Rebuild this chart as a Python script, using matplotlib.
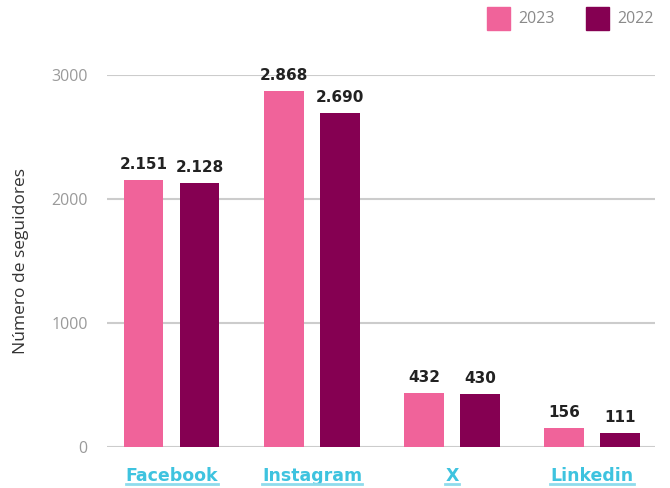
import matplotlib
matplotlib.use("Agg")
import matplotlib.pyplot as plt
import numpy as np
from matplotlib.patches import Rectangle
from matplotlib.lines import Line2D

categories = ["Facebook", "Instagram", "X", "Linkedin"]
values_2023 = [2151, 2868, 432, 156]
values_2022 = [2128, 2690, 430, 111]
labels_2023 = ["2.151", "2.868", "432", "156"]
labels_2022 = ["2.128", "2.690", "430", "111"]
series_names = ["2023", "2022"]
yticks = [0, 1000, 2000, 3000]

c2023 = "#F0639A"
c2022 = "#850052"
cat_color = "#3EC3DF"

W, H = 670, 488
fig = plt.figure(figsize=(W/100, H/100), dpi=100)
ax = fig.add_axes([107/W, 1-447/H, (655-107)/W, (447-75)/H])

x = np.arange(len(categories))
bw = 0.279
off = 0.2
ax.bar(x - off, values_2023, bw, color=c2023, zorder=3)
ax.bar(x + off, values_2022, bw, color=c2022, zorder=3)

for xi, v, l in zip(x, values_2023, labels_2023):
    ax.text(xi - off, v + 65, l, ha="center", va="bottom", fontsize=11,
            fontweight="bold", color="#222222", family="DejaVu Sans")
for xi, v, l in zip(x, values_2022, labels_2022):
    ax.text(xi + off, v + 65, l, ha="center", va="bottom", fontsize=11,
            fontweight="bold", color="#222222", family="DejaVu Sans")

ax.set_xlim(-0.464, 3.45)
ax.set_ylim(0, 3000)
ax.set_yticks(yticks)
ax.set_yticklabels([str(t) for t in yticks], color="#9a9a9a", fontsize=11.5, family="Open Sans")
ax.tick_params(axis="y", length=0, pad=14)
ax.tick_params(axis="x", length=0)
ax.yaxis.grid(True, color="#cccccc", linewidth=1.5, zorder=0)
ax.set_axisbelow(True)
for s in ax.spines.values():
    s.set_visible(False)
ax.set_xticks(x)
ax.set_xticklabels([])
ax.set_ylabel("Número de seguidores", fontsize=12.5, color="#333333", family="Open Sans", labelpad=16)

# category labels
texts = []
for xi, c in zip(x, categories):
    t = ax.text(xi, -0.053, c, transform=ax.get_xaxis_transform(), ha="center", va="top",
                fontsize=12.5, fontweight="bold", color=cat_color, family="DejaVu Sans")
    texts.append(t)

fig.canvas.draw()
r = fig.canvas.get_renderer()
for t in texts:
    bb = t.get_window_extent(r)
    yline = bb.y0 + 1
    fig.add_artist(Line2D([bb.x0/W, bb.x1/W], [yline/H, yline/H], color="#8fdcec", linewidth=2))

# legend
fig.add_artist(Rectangle((487/W, 1-30/H), 23/W, 23/H, color=c2023, transform=fig.transFigure))
fig.text(518/W, 1-19/H, series_names[0], va="center", ha="left", fontsize=11.5, color="#8a8a8a", family="Open Sans")
fig.add_artist(Rectangle((586/W, 1-30/H), 23/W, 23/H, color=c2022, transform=fig.transFigure))
fig.text(617/W, 1-19/H, series_names[1], va="center", ha="left", fontsize=11.5, color="#8a8a8a", family="Open Sans")

fig.savefig("out.png", dpi=100)
